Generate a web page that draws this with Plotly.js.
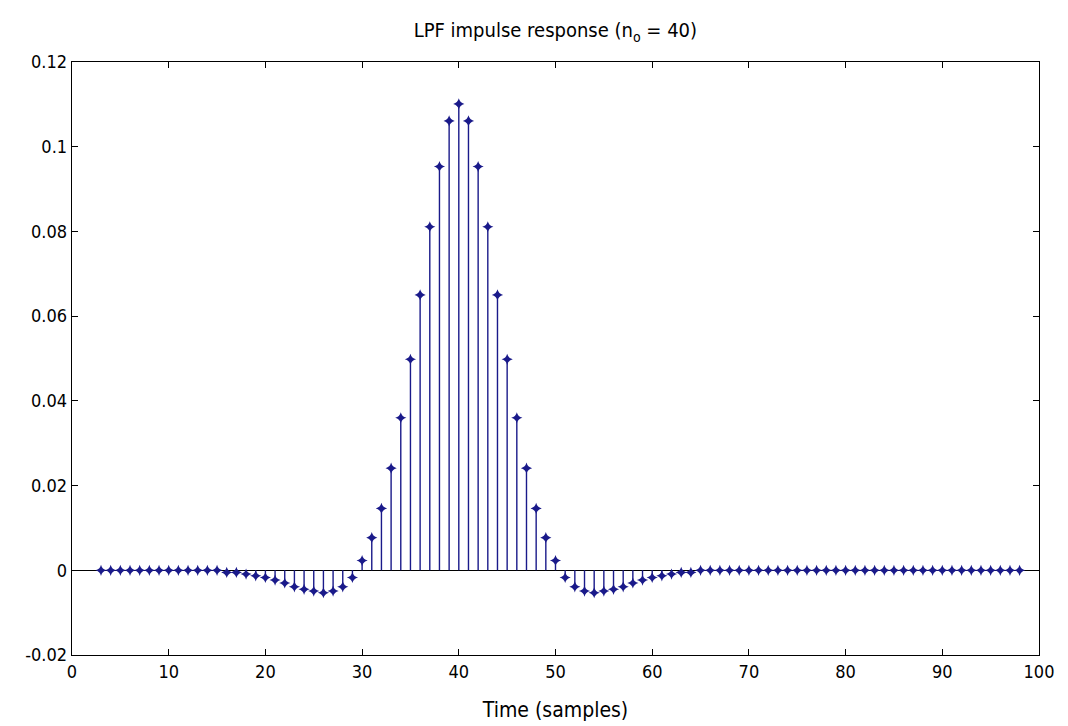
<!DOCTYPE html>
<html>
<head>
<meta charset="utf-8">
<script src="https://cdn.plot.ly/plotly-3.0.1.min.js"></script>
<style>html,body{margin:0;padding:0;background:#fff;}#chart{width:1068px;height:726px;}</style>
</head>
<body>
<div id="chart"></div>
<script>
// Sample indices (time, samples)
const samples = [3,4,5,6,7,8,9,10,11,12,13,14,15,16,17,18,19,20,21,22,23,24,25,26,27,28,29,30,
  31,32,33,34,35,36,37,38,39,40,41,42,43,44,45,46,47,48,49,50,
  51,52,53,54,55,56,57,58,59,60,61,62,63,64,65,66,67,68,69,70,
  71,72,73,74,75,76,77,78,79,80,81,82,83,84,85,86,87,88,89,90,
  91,92,93,94,95,96,97,98];
// Impulse response values
const response = [0,0,0,0,0,0,0,0,0,0,0,0,0,
  -0.0005,-0.0005,-0.0009,-0.0013,-0.0017,-0.0023,-0.0030,-0.0039,-0.0045,-0.0049,-0.0053,-0.0049,-0.0039,-0.0017,
  0.0023,0.0077,0.0146,0.0241,0.0360,0.0498,0.0650,0.0811,0.0953,0.1061,0.1101,0.1061,0.0953,0.0811,0.0650,0.0498,0.0360,0.0241,0.0146,0.0077,0.0023,
  -0.0017,-0.0039,-0.0049,-0.0053,-0.0049,-0.0045,-0.0039,-0.0030,-0.0023,-0.0017,-0.0013,-0.0009,-0.0005,-0.0005,
  0,0,0,0,0,0,0,0,0,0,0,0,0,0,0,0,0,0,0,0,0,0,0,0,0,0,0,0,0,0,0,0,0,0];
const xTicks = [0,10,20,30,40,50,60,70,80,90,100];
const yTicks = [-0.02,0,0.02,0.04,0.06,0.08,0.1,0.12];
const yTickLabels = ["-0.02","0","0.02","0.04","0.06","0.08","0.1","0.12"];
const titleText = "LPF impulse response (n<sub>o</sub> = 40)";
const xTitle = "Time (samples)";

// Stems built from the data arrays
const stemX = [], stemY = [];
samples.forEach((n, i) => { stemX.push(n, n, null); stemY.push(0, response[i], null); });

const color = "#1a1a8a";
const font = "DejaVu Sans Condensed, Liberation Sans, Arial, sans-serif";

const traces = [
  {x: stemX, y: stemY, type: "scatter", mode: "lines", line: {color: color, width: 1.4}, hoverinfo: "skip", showlegend: false},
  {x: samples, y: response, type: "scatter", mode: "markers",
   marker: {symbol: "star-diamond", size: 8, color: color, line: {width: 0}}, showlegend: false}
];

const layout = {
  width: 1068, height: 726,
  paper_bgcolor: "#fff", plot_bgcolor: "#fff",
  margin: {l: 72, r: 29, t: 62, b: 71},
  title: {text: titleText, x: 0.52, xanchor: "center", y: 0.958, yanchor: "middle",
          font: {family: font, size: 20, color: "#000"}},
  xaxis: {range: [0, 100], tickvals: xTicks, ticktext: xTicks.map(String),
          ticks: "inside", ticklen: 6, tickcolor: "#000", tickwidth: 1,
          showline: true, linecolor: "#000", linewidth: 1.3, mirror: "ticks",
          showgrid: false, zeroline: false,
          tickfont: {family: font, size: 18, color: "#000"},
          title: {text: xTitle, font: {family: font, size: 21, color: "#000"}, standoff: 21}},
  yaxis: {range: [-0.02, 0.12], tickvals: yTicks, ticktext: yTickLabels,
          ticks: "inside", ticklen: 6, tickcolor: "#000", tickwidth: 1,
          showline: true, linecolor: "#000", linewidth: 1.3, mirror: "ticks",
          showgrid: false, zeroline: true, zerolinecolor: "#000", zerolinewidth: 1.3,
          tickfont: {family: font, size: 18, color: "#000"}}
};

Plotly.newPlot("chart", traces, layout, {displayModeBar: false, staticPlot: true});
</script>
</body>
</html>
